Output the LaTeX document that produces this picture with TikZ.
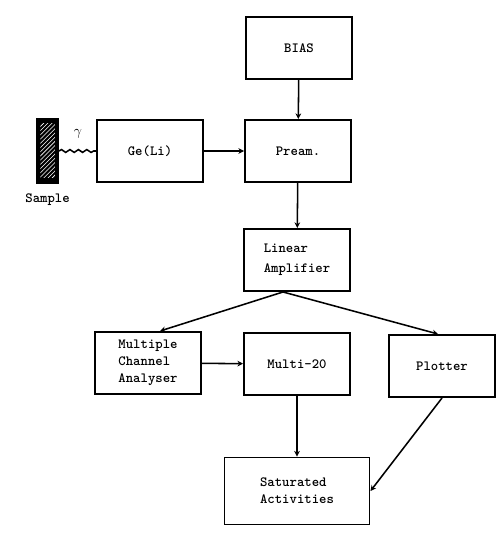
\documentclass[tikz,border=0pt]{standalone}
\usepackage{amsmath}
\usepackage{tikz}
\usetikzlibrary{arrows.meta, decorations.pathmorphing, patterns}

\tikzset{
    unit/.style={draw, line width=1.4pt, minimum width=2.65cm, minimum height=1.55cm,
        align=left, font=\ttfamily\bfseries},
    link/.style={line width=1.1pt},
    flow/.style={line width=1.1pt, -{Stealth[length=4pt,width=4pt]}}
}

\begin{document}
\begin{tikzpicture}
    \useasboundingbox (0,0) rectangle (12.575,-13.45);

    \node[unit] (BIAS) at (7.475,-1.2) {BIAS};
    \node[unit] (GeLi) at (3.75,-3.775) {Ge(Li)};
    \node[unit] (Pream) at (7.45,-3.775) {Pream.};
    \node[unit] (Lin) at (7.425,-6.5) {Linear\\[2pt]Amplifier};
    \node[unit, inner xsep=2pt] (MCA) at (3.7,-9.075) {Multiple\\Channel\\Analyser};
    \node[unit] (Multi) at (7.425,-9.1) {Multi-20};
    \node[unit] (Plot) at (11.05,-9.15) {Plotter};
    \node[unit, minimum width=3.625cm, minimum height=1.675cm] (Sat) at (7.425,-12.275) {Saturated\\Activities};

    % sample
    \node[draw, fill=black, minimum width=0.55cm, minimum height=1.62cm, inner sep=0pt] (Smp) at (1.19,-3.76) {};
    \fill[pattern=north east lines, pattern color=white] ([shift={(0.1,0.15)}]Smp.south west) rectangle ([shift={(-0.1,-0.15)}]Smp.north east);
    \node[font=\ttfamily\bfseries, below=4pt] (SmpLbl) at (Smp.south) {Sample};
    \node (gam) at (1.95,-3.35) {$\gamma$};

    \draw[link, decorate, decoration={snake, amplitude=1pt, segment length=6pt}] (Smp.east |- GeLi.west) -- (GeLi.west);
    \draw[flow] (BIAS) -- (Pream);
    \draw[flow] (GeLi) -- (Pream);
    \draw[flow] (Pream) -- (Lin);
    \draw[flow] ([xshift=-0.35cm]Lin.south) -- ([xshift=0.3cm]MCA.north);
    \draw[flow] ([xshift=-0.35cm]Lin.south) -- ([xshift=-0.1cm]Plot.north);
    \draw[flow] (MCA) -- (Multi);
    \draw[flow] (Multi) -- (Sat);
    \draw[flow] (Plot.south) -- (Sat.east);
\end{tikzpicture}
\end{document}
